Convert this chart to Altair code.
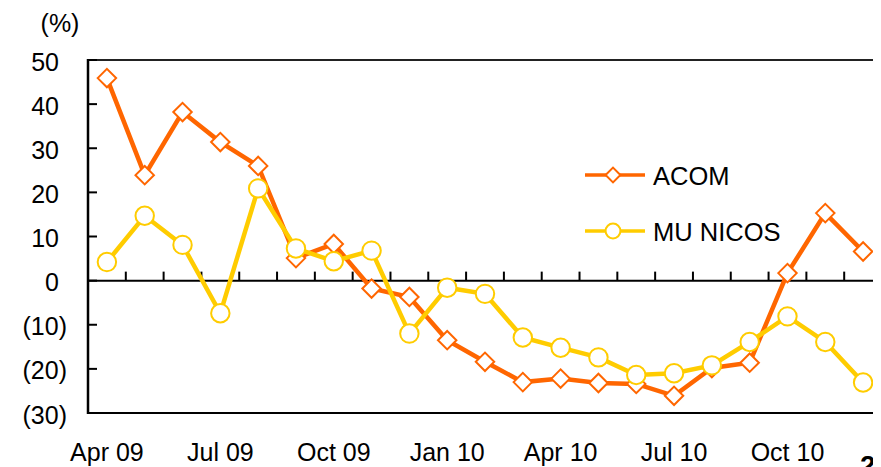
import altair as alt
import pandas as pd

# ---------------- data ----------------
months = ["Apr 09", "May 09", "Jun 09", "Jul 09", "Aug 09", "Sep 09", "Oct 09",
          "Nov 09", "Dec 09", "Jan 10", "Feb 10", "Mar 10", "Apr 10", "May 10",
          "Jun 10", "Jul 10", "Aug 10", "Sep 10", "Oct 10", "Nov 10", "Dec 10"]
acom = [45.9, 23.9, 38.2, 31.4, 26.0, 5.1, 8.3, -1.8, -3.7, -13.5, -18.4,
        -23.0, -22.2, -23.2, -23.4, -26.1, -19.8, -18.6, 1.7, 15.3, 6.6]
mu_nicos = [4.2, 14.7, 8.1, -7.4, 20.9, 7.3, 4.4, 6.8, -12.0, -1.6, -3.0,
            -12.9, -15.2, -17.4, -21.4, -21.0, -19.2, -13.9, -8.1, -13.9, -23.1]
y_ticks = [50, 40, 30, 20, 10, 0, -10, -20, -30]
x_label_idx = [0, 3, 6, 9, 12, 15, 18]
series_names = ["ACOM", "MU NICOS"]
series_colors = ["#FF6600", "#FFCC00"]
series_shapes = ["diamond", "circle"]

# ---------------- layout ----------------
FONT = "Liberation Sans"
FS = 25
W = 785          # drawable plot width inside the page
W_RANGE = 794    # pixel span of the category axis (runs to the page edge)
H = 353
Y_MIN, Y_MAX = -30, 50
ZERO_PX = H * Y_MAX / (Y_MAX - Y_MIN)

n = len(months)
df = pd.DataFrame({"idx": list(range(n)), "month": months,
                   "ACOM": acom, "MU NICOS": mu_nicos})
long = df.melt(id_vars=["idx", "month"], var_name="series", value_name="value")

xscale = alt.Scale(domain=[-0.5, n - 0.5], range=[0, W_RANGE], nice=False, zero=False)
yscale = alt.Scale(domain=[Y_MIN, Y_MAX], nice=False, zero=False)

one = pd.DataFrame({"k": [0]})

# frame lines (top border, bottom border, value-axis line)
top_line = alt.Chart(one).mark_rule(color="#222222", strokeWidth=2).encode(
    x=alt.value(0), x2=alt.value(W_RANGE), y=alt.value(0))
bottom_line = alt.Chart(one).mark_rule(color="black", strokeWidth=2).encode(
    x=alt.value(0), x2=alt.value(W_RANGE), y=alt.value(H))
y_axis_line = alt.Chart(one).mark_rule(color="black", strokeWidth=2.5).encode(
    x=alt.value(0), y=alt.value(-1), y2=alt.value(H + 1))

# zero (category) axis line
zero_line = alt.Chart(pd.DataFrame({"v": [0]})).mark_rule(color="black", strokeWidth=2).encode(
    y=alt.Y("v:Q", scale=yscale, axis=None), x=alt.value(0), x2=alt.value(W_RANGE))

# category ticks (inward, at band edges)
bounds = pd.DataFrame({"b": [k - 0.5 for k in range(n + 1)]})
x_ticks = alt.Chart(bounds).mark_rule(color="black", strokeWidth=2).encode(
    x=alt.X("b:Q", scale=xscale, axis=None),
    y=alt.value(ZERO_PX), y2=alt.value(ZERO_PX - 9))

# value ticks (inward) and labels
yt = pd.DataFrame({"t": y_ticks})
y_tick_marks = alt.Chart(yt).mark_rule(color="black", strokeWidth=2).encode(
    y=alt.Y("t:Q", scale=yscale, axis=None), x=alt.value(0), x2=alt.value(9))
y_labels_pos = alt.Chart(yt).transform_filter("datum.t >= 0").mark_text(
    align="right", baseline="middle", font=FONT, fontSize=FS, color="black", dy=2.5
).encode(y=alt.Y("t:Q", scale=yscale, axis=None), x=alt.value(-29), text="t:Q")
y_labels_neg = alt.Chart(yt).transform_filter("datum.t < 0").transform_calculate(
    lab="'(' + abs(datum.t) + ')'"
).mark_text(align="right", baseline="middle", font=FONT, fontSize=FS,
            color="black", dy=2.5).encode(
    y=alt.Y("t:Q", scale=yscale, axis=None), x=alt.value(-21), text="lab:N")

# category labels
xl = pd.DataFrame({"i": x_label_idx, "lab": [months[i] for i in x_label_idx]})
x_labels = alt.Chart(xl).mark_text(align="center", baseline="middle", font=FONT,
                                   fontSize=FS, color="black").encode(
    x=alt.X("i:Q", scale=xscale, axis=None), y=alt.value(H + 40), text="lab:N")

# unit label
unit = alt.Chart(one).mark_text(text="(%)", align="center", baseline="middle",
                                font=FONT, fontSize=FS, color="black").encode(
    x=alt.value(-28), y=alt.value(-36))

layers = [top_line, bottom_line, zero_line, x_ticks, y_tick_marks, y_axis_line,
          y_labels_pos, y_labels_neg, x_labels, unit]

for name, col, shp in zip(series_names, series_colors, series_shapes):
    base = alt.Chart(long).transform_filter(alt.datum.series == name)
    enc = dict(x=alt.X("idx:Q", scale=xscale, axis=None),
               y=alt.Y("value:Q", scale=yscale, axis=None))
    line = base.mark_line(color=col, strokeWidth=4.5).encode(**enc)
    pts = base.mark_point(shape=shp, filled=True, fill="white", fillOpacity=1,
                          stroke=col, strokeWidth=2, size=340, opacity=1).encode(**enc)
    layers += [line, pts]

# legend (manual, inside plot)
leg_y = [115, 171]
for name, col, shp, ly in zip(series_names, series_colors, series_shapes, leg_y):
    layers.append(alt.Chart(one).mark_rule(color=col, strokeWidth=3.5).encode(
        x=alt.value(497), x2=alt.value(557), y=alt.value(ly)))
    layers.append(alt.Chart(one).mark_point(shape=shp, filled=True, fill="white",
                                            stroke=col, strokeWidth=2, size=220,
                                            opacity=1).encode(
        x=alt.value(525), y=alt.value(ly)))
    layers.append(alt.Chart(one).mark_text(text=name, align="left", baseline="middle",
                                           font=FONT, fontSize=25.5, color="black").encode(
        x=alt.value(565), y=alt.value(ly + 2)))

# page number
layers.append(alt.Chart(one).mark_text(text="2", align="left", baseline="top",
                                       font=FONT, fontSize=28, fontWeight="bold",
                                       color="black").encode(
    x=alt.value(772), y=alt.value(393)))

chart = alt.layer(*layers).properties(
    width=W, height=H,
    autosize=alt.AutoSizeParams(type="none"),
    padding={"left": 80, "top": 52, "right": 0, "bottom": 54},
    background="white",
).configure_view(stroke=None)

chart.save("out.html", embed_options={"renderer": "svg", "actions": False})
